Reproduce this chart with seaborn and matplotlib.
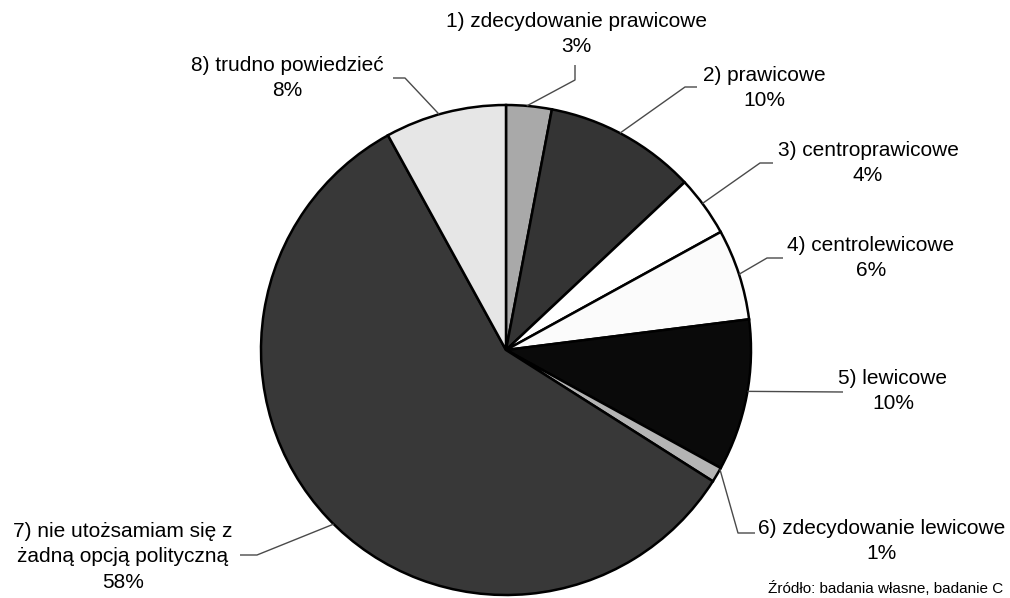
import matplotlib
matplotlib.use("Agg")
import matplotlib.pyplot as plt
import seaborn as sns
import numpy as np

# ---------------- data ----------------
categories = [
    "1) zdecydowanie prawicowe",
    "2) prawicowe",
    "3) centroprawicowe",
    "4) centrolewicowe",
    "5) lewicowe",
    "6) zdecydowanie lewicowe",
    "7) nie utożsamiam się z\nżadną opcją polityczną",
    "8) trudno powiedzieć",
]
values = [3, 10, 4, 6, 10, 1, 58, 8]
value_labels = ["3%", "10%", "4%", "6%", "10%", "1%", "58%", "8%"]
source_text = "Źródło: badania własne, badanie C"

# ---------------- style ----------------
sns.set_theme(style="white")
plt.rcParams["font.family"] = ["Liberation Sans", "DejaVu Sans"]

fill_colors = sns.color_palette(
    ["#a9a9a9", "#343434", "#ffffff", "#fbfbfb", "#0a0a0a", "#b4b4b4", "#383838", "#e6e6e6"]
)

# layout (pixel coordinates, y downward)
pie_center = (506, 350)
pie_radius = 245
label_pos = [(576, 34), (764, 88), (868, 163), (871, 258), (893, 391),
             (882, 541), (123, 557), (287, 78)]
anchor_frac = [0.45, 0.47, 0.45, 0.5, 0.47, 0.1, 0.49, 0.45]
leader_elbows = [
    [(575, 80), (575, 65)],
    [(685, 87), (697, 87)],
    [(760, 163), (773, 163)],
    [(767, 258), (783, 258)],
    [(843, 392)],
    [(738, 533), (755, 533)],
    [(257, 555), (240, 555)],
    [(405, 78), (393, 78)],
]

fig = plt.figure(figsize=(10.1, 5.98), dpi=100)
ax = fig.add_axes([0, 0, 1, 1])

wedges, _ = ax.pie(
    values,
    colors=fill_colors,
    startangle=-90,
    counterclock=True,
    center=pie_center,
    radius=pie_radius,
    wedgeprops=dict(edgecolor="black", linewidth=1.8),
)

ax.set_xlim(0, 1010)
ax.set_ylim(598, 0)
ax.set_aspect("equal")
ax.axis("off")

# leader lines and labels
for w, frac, elbows, pos, cat, val in zip(wedges, anchor_frac, leader_elbows,
                                           label_pos, categories, value_labels):
    th = np.deg2rad(w.theta1 + frac * (w.theta2 - w.theta1))
    ax_pt = (pie_center[0] + pie_radius * np.cos(th),
             pie_center[1] + pie_radius * np.sin(th))
    xs = [ax_pt[0]] + [p[0] for p in elbows]
    ys = [ax_pt[1]] + [p[1] for p in elbows]
    ax.plot(xs, ys, color="#4a4a4a", lw=1.0, solid_capstyle="butt", zorder=5)
    ax.text(pos[0], pos[1], f"{cat}\n{val}", ha="center", va="center",
            fontsize=15, linespacing=1.42, color="black", multialignment="center")

ax.text(768, 596, source_text, ha="left", va="bottom", fontsize=11, color="black")

fig.savefig("out.png", dpi=100)
